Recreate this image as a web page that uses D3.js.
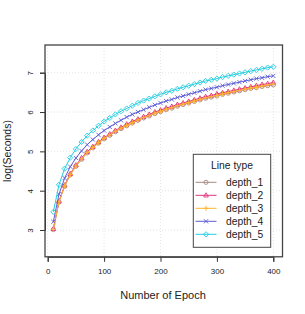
<!DOCTYPE html>
<html><head><meta charset="utf-8">
<script src="https://cdn.jsdelivr.net/npm/d3@7"></script>
<style>body{margin:0;background:#fff}svg{display:block}text{font-family:"Liberation Sans",Arial,sans-serif;fill:#222}</style>
</head><body><svg id="c" width="305" height="314"></svg>
<script>
const epochs = [10,20,30,40,50,60,70,80,90,100,110,120,130,140,150,160,170,180,190,200,210,220,230,240,250,260,270,280,290,300,310,320,330,340,350,360,370,380,390,400];
const depth_1 = [3.01,3.71,4.11,4.40,4.62,4.80,4.96,5.09,5.21,5.32,5.41,5.50,5.58,5.65,5.72,5.79,5.85,5.90,5.96,6.01,6.06,6.10,6.15,6.19,6.23,6.27,6.31,6.35,6.38,6.41,6.45,6.48,6.51,6.54,6.57,6.60,6.62,6.65,6.67,6.69];
const depth_2 = [3.03,3.73,4.14,4.43,4.65,4.83,4.99,5.12,5.24,5.35,5.44,5.53,5.61,5.69,5.76,5.82,5.88,5.94,6.00,6.05,6.10,6.14,6.19,6.23,6.27,6.31,6.35,6.39,6.42,6.46,6.49,6.52,6.55,6.58,6.61,6.64,6.67,6.70,6.72,6.75];
const depth_3 = [3.02,3.72,4.12,4.41,4.63,4.81,4.97,5.10,5.22,5.33,5.42,5.51,5.59,5.66,5.73,5.80,5.86,5.91,5.97,6.02,6.07,6.11,6.16,6.20,6.24,6.28,6.32,6.36,6.39,6.42,6.46,6.49,6.52,6.55,6.58,6.61,6.63,6.66,6.69,6.71];
const depth_4 = [3.21,3.91,4.32,4.61,4.83,5.01,5.17,5.30,5.42,5.53,5.62,5.71,5.79,5.87,5.94,6.00,6.06,6.12,6.18,6.23,6.28,6.32,6.37,6.41,6.45,6.49,6.53,6.57,6.60,6.63,6.67,6.70,6.73,6.76,6.79,6.82,6.85,6.87,6.90,6.92];
const depth_5 = [3.46,4.15,4.56,4.84,5.06,5.24,5.40,5.53,5.65,5.76,5.85,5.94,6.02,6.09,6.16,6.23,6.29,6.34,6.40,6.45,6.50,6.54,6.59,6.63,6.67,6.71,6.75,6.79,6.82,6.85,6.89,6.92,6.95,6.98,7.01,7.04,7.07,7.10,7.13,7.15];
const seriesNames = ["depth_1","depth_2","depth_3","depth_4","depth_5"];
const seriesColors = ["#a88a80","#e2337f","#ffb52e","#5c5cd6","#22cde0"];
const seriesShapes = ["circle","triangle","plus","cross","diamond"];
const xTicks = [0,100,200,300,400];
const yTicks = [3,4,5,6,7];
const xTitle = "Number of Epoch", yTitle = "log(Seconds)", legendTitle = "Line type";

const svg = d3.select("#c");
const L=45, R=282.5, T=45, B=256.8;
const x = d3.scaleLinear().domain([0,400]).range([47.7,273.3]);
const y = d3.scaleLinear().domain([3,7]).range([230,72.7]);

const g = svg.append("g");
g.selectAll(".gx").data(xTicks).join("line").attr("x1",d=>x(d)).attr("x2",d=>x(d)).attr("y1",T).attr("y2",B)
 .attr("stroke","#ddd").attr("stroke-width",0.8).attr("stroke-dasharray","1,2");
g.selectAll(".gy").data(yTicks).join("line").attr("y1",d=>y(d)).attr("y2",d=>y(d)).attr("x1",L).attr("x2",R)
 .attr("stroke","#ddd").attr("stroke-width",0.8).attr("stroke-dasharray","1,2");

const xa = svg.append("g").attr("transform",`translate(0,${B})`)
 .call(d3.axisBottom(x).tickValues(xTicks).tickSize(5).tickPadding(7).tickFormat(d3.format("d")));
xa.select(".domain").attr("stroke","#333");
xa.selectAll("line").attr("stroke","#333");
xa.selectAll("text").style("font-size","8px").style("font-family","Liberation Sans, Arial, sans-serif").attr("fill","#222");
const ya = svg.append("g").attr("transform",`translate(${L},0)`)
 .call(d3.axisLeft(y).tickValues(yTicks).tickSize(5).tickFormat(d3.format("d")));
ya.select(".domain").attr("stroke","#333");
ya.selectAll("line").attr("stroke","#333");
ya.selectAll(".tick text").style("font-size","8px").style("font-family","Liberation Sans, Arial, sans-serif").attr("fill","#222")
 .attr("x",0).attr("y",0).attr("dy","0.32em").attr("text-anchor","middle").attr("transform","translate(-15,0) rotate(-90)");

svg.append("rect").attr("x",L).attr("y",T).attr("width",R-L).attr("height",B-T).attr("fill","none").attr("stroke","#444").attr("stroke-width",1.3);

svg.append("text").attr("x",163).attr("y",299).attr("text-anchor","middle").style("font-size","11px").text(xTitle);
svg.append("text").attr("transform","translate(11,151) rotate(-90)").attr("text-anchor","middle").style("font-size","10.5px").text(yTitle);

function sym(sel, shape, color){
  const s = 2.1;
  if(shape==="circle") sel.append("circle").attr("r",s).attr("fill","none").attr("stroke",color).attr("stroke-width",0.9);
  else if(shape==="triangle") sel.append("path").attr("d",`M0,${-s*1.2}L${s*1.1},${s*0.8}L${-s*1.1},${s*0.8}Z`).attr("fill","none").attr("stroke",color).attr("stroke-width",0.9);
  else if(shape==="plus") sel.append("path").attr("d",`M${-s*1.2},0H${s*1.2}M0,${-s*1.2}V${s*1.2}`).attr("stroke",color).attr("stroke-width",0.9);
  else if(shape==="cross") sel.append("path").attr("d",`M${-s},${-s}L${s},${s}M${-s},${s}L${s},${-s}`).attr("stroke",color).attr("stroke-width",0.9);
  else sel.append("path").attr("d",`M0,${-s*1.25}L${s*1.25},0L0,${s*1.25}L${-s*1.25},0Z`).attr("fill","none").attr("stroke",color).attr("stroke-width",0.9);
}

const allSeries = [depth_1,depth_2,depth_3,depth_4,depth_5];
const line = d3.line().x((d,i)=>x(epochs[i])).y(d=>y(d));
allSeries.forEach((vals,k)=>{
  const sg = svg.append("g");
  sg.append("path").datum(vals).attr("d",line).attr("fill","none").attr("stroke",seriesColors[k]).attr("stroke-width",1);
  vals.forEach((v,i)=>{ sym(sg.append("g").attr("transform",`translate(${x(epochs[i])},${y(v)})`), seriesShapes[k], seriesColors[k]); });
});

const lg = svg.append("g");
lg.append("rect").attr("x",193.3).attr("y",154.3).attr("width",77.4).attr("height",93).attr("fill","#fff").attr("stroke","#444").attr("stroke-width",1);
lg.append("text").attr("x",232).attr("y",168.5).attr("text-anchor","middle").style("font-size","10.3px").text(legendTitle);
seriesNames.forEach((n,k)=>{
  const yy = 182.3 + k*13;
  lg.append("line").attr("x1",195.5).attr("x2",216.5).attr("y1",yy).attr("y2",yy).attr("stroke",seriesColors[k]).attr("stroke-width",1);
  sym(lg.append("g").attr("transform",`translate(206,${yy})`), seriesShapes[k], seriesColors[k]);
  lg.append("text").attr("x",226).attr("y",yy).attr("dy","0.35em").style("font-size","10.3px").text(n);
});
</script></body></html>
